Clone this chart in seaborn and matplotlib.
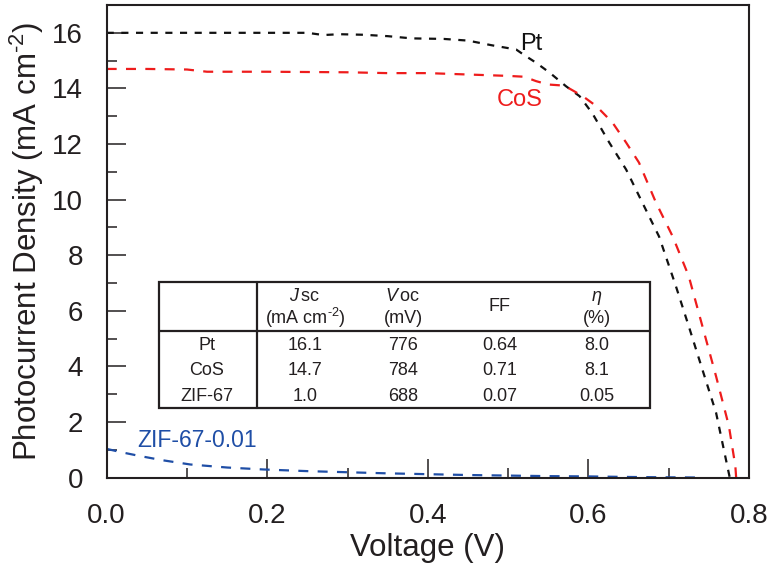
import numpy as np
import pandas as pd
import matplotlib
matplotlib.use("Agg")
import matplotlib.pyplot as plt
import seaborn as sns
from matplotlib.ticker import MultipleLocator, FormatStrFormatter

# ---- data ----
pt_v = [0.0, 0.05, 0.1, 0.15, 0.2, 0.25, 0.27, 0.29, 0.32, 0.35, 0.38, 0.42, 0.45, 0.48,
        0.50, 0.51, 0.52, 0.535, 0.552, 0.572, 0.589, 0.605, 0.626, 0.647, 0.667, 0.688,
        0.709, 0.725, 0.742, 0.759, 0.773, 0.776]
pt_j = [16.0, 16.0, 16.0, 16.0, 16.0, 16.0, 15.92, 15.95, 15.93, 15.88, 15.8, 15.78, 15.72, 15.55,
        15.45, 15.4, 15.2, 14.92, 14.56, 14.08, 13.72, 13.1, 12.05, 11.08, 9.9, 8.67,
        6.88, 5.44, 3.88, 2.33, 0.41, 0.0]

cos_v = [0.0, 0.05, 0.1, 0.125, 0.2, 0.3, 0.35, 0.4, 0.45, 0.5, 0.52, 0.535, 0.55, 0.57,
         0.593, 0.61, 0.63, 0.647, 0.663, 0.684, 0.705, 0.725, 0.742, 0.759, 0.775, 0.783, 0.784]
cos_j = [14.7, 14.7, 14.68, 14.6, 14.6, 14.58, 14.55, 14.55, 14.5, 14.45, 14.42, 14.26, 14.14, 14.1,
         13.72, 13.36, 12.77, 12.05, 11.33, 9.9, 8.67, 7.24, 5.44, 3.64, 1.85, 0.41, 0.0]

zif_v = [0.0, 0.02, 0.042, 0.07, 0.104, 0.15, 0.195, 0.25, 0.3, 0.35, 0.4, 0.45, 0.5,
         0.55, 0.6, 0.65, 0.688, 0.74]
zif_j = [1.03, 0.9, 0.77, 0.62, 0.47, 0.36, 0.29, 0.23, 0.19, 0.15, 0.12, 0.09, 0.07,
         0.05, 0.04, 0.02, 0.01, 0.0]

row_names = ["Pt", "CoS", "ZIF-67"]
jsc = ["16.1", "14.7", "1.0"]
voc = ["776", "784", "688"]
ff = ["0.64", "0.71", "0.07"]
eta = ["8.0", "8.1", "0.05"]

# ---- style ----
sns.set_theme(style="ticks")
plt.rcParams["font.family"] = ["Liberation Sans", "DejaVu Sans"]
plt.rcParams["mathtext.fontset"] = "custom"
plt.rcParams["mathtext.rm"] = "Liberation Sans"
plt.rcParams["mathtext.it"] = "Liberation Sans:italic"
plt.rcParams["mathtext.bf"] = "Liberation Sans:bold"

fig = plt.figure(figsize=(7.74, 5.71), dpi=100)
ax = fig.add_axes([0.1378, 0.1637, 0.8299, 0.8275])

series = [
    (pt_v, pt_j, "#111111", (3.2, 3.4)),
    (cos_v, cos_j, "#ee1c1c", (4.5, 4.2)),
    (zif_v, zif_j, "#1f4ea6", (4.5, 4.2)),
]
for v, j, c, d in series:
    df = pd.DataFrame({"V": v, "J": j})
    sns.lineplot(data=df, x="V", y="J", color=c, linewidth=1.6, ax=ax, sort=False)
    ax.lines[-1].set_dashes(d)

ax.set_xlim(0, 0.8)
ax.set_ylim(0, 17)
ax.xaxis.set_major_locator(MultipleLocator(0.2))
ax.xaxis.set_minor_locator(MultipleLocator(0.1))
ax.yaxis.set_major_locator(MultipleLocator(2))
ax.yaxis.set_minor_locator(MultipleLocator(1))
ax.xaxis.set_major_formatter(FormatStrFormatter("%.1f"))
ax.tick_params(which="major", direction="in", length=13.5, width=1.1, labelsize=20,
               colors="#231f20")
ax.tick_params(which="minor", direction="in", length=7, width=1.1, colors="#231f20")
ax.tick_params(axis="x", which="major", pad=18)
ax.tick_params(axis="y", which="major", pad=17)
for s in ax.spines.values():
    s.set_linewidth(1.5)
    s.set_color("#231f20")

ax.set_xlabel("Voltage (V)", fontsize=22.5, color="#231f20", labelpad=3)
ax.set_ylabel(r"Photocurrent Density (mA cm$^{\text{-}2}$)", fontsize=22.5, color="#231f20",
              labelpad=4)

# curve labels
ax.annotate("Pt", xy=(0.529, 15.61), xycoords="data", fontsize=17, color="#111111",
            ha="center", va="center")
ax.annotate("CoS", xy=(0.515, 13.6), xycoords="data", fontsize=17, color="#ee1c1c",
            ha="center", va="center")
ax.annotate("ZIF-67-0.01", xy=(0.113, 1.35), xycoords="data", fontsize=16.5, color="#1f4ea6",
            ha="center", va="center")

# ---- inset table (axes fraction layout) ----
tx0, tx1, ty0, ty1 = 0.0819, 0.8459, 0.1465, 0.4144
vdiv, hdiv = 0.2335, 0.310
tc = "#231f20"
ax.add_patch(plt.Rectangle((tx0, ty0), tx1 - tx0, ty1 - ty0, transform=ax.transAxes,
                           fill=True, facecolor="white", edgecolor=tc, linewidth=1.6, zorder=5))
ax.plot([vdiv, vdiv], [ty0, ty1], transform=ax.transAxes, color=tc, lw=1.6, zorder=6)
ax.plot([tx0, tx1], [hdiv, hdiv], transform=ax.transAxes, color=tc, lw=1.6, zorder=6)

cols = [0.1557, 0.3087, 0.4613, 0.6123, 0.7629]
fs = 13
kw = dict(transform=ax.transAxes, ha="center", va="center", fontsize=fs, color=tc, zorder=7)
ax.text(cols[1], 0.3826, r"$J\,$sc", **kw)
ax.text(cols[1], 0.3369, r"(mA cm$^{\text{-}2}$)", **kw)
ax.text(cols[2], 0.3826, r"$V\,$oc", **kw)
ax.text(cols[2], 0.3369, "(mV)", **kw)
ax.text(cols[3], 0.3615, "FF", **kw)
ax.text(cols[4], 0.3826, "η", fontstyle="italic", **kw)
ax.text(cols[4], 0.3369, "(%)", **kw)
row_y = [0.2804, 0.2275, 0.1710]
for i, y in enumerate(row_y):
    for c, val in zip(cols, [row_names[i], jsc[i], voc[i], ff[i], eta[i]]):
        ax.text(c, y, val, **kw)

fig.savefig("out.png", dpi=100)
